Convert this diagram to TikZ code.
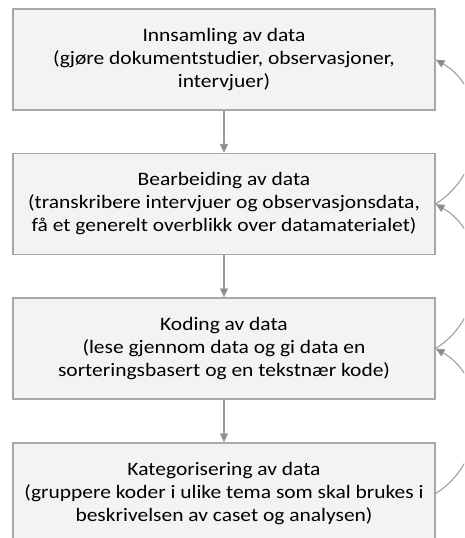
\documentclass[tikz,border=0pt]{standalone}
\usepackage{fontspec}
\setmainfont{Carlito}[FakeStretch=1.13]
\usetikzlibrary{arrows.meta}
\definecolor{boxfill}{HTML}{F3F3F3}
\definecolor{boxline}{HTML}{A8A8A8}
\definecolor{linkgray}{HTML}{999999}
\definecolor{tipgray}{HTML}{888888}
\tikzset{
  stage/.style={draw=boxline, line width=1.2pt, fill=boxfill,
    minimum width=422pt, minimum height=101pt, inner sep=0pt,
    align=center, font=\fontsize{19}{23}\selectfont, text=black},
  flow/.style={draw=linkgray, line width=1.2pt,
    -{Triangle[length=9pt,width=8pt,fill=tipgray]}},
  loopback/.style={draw=linkgray, line width=1pt,
    -{Triangle[length=9pt,width=8pt,fill=tipgray]}}
}
\begin{document}
\begin{tikzpicture}[x=1pt,y=1pt]
\clip (0,0) rectangle (464,-538);
\fill[white] (0,0) rectangle (464,-538);

\node[stage] (s1) at (224,-59.5) {Innsamling av data\\(gjøre dokumentstudier, observasjoner,\\intervjuer)};
\node[stage] (s2) at (224,-204) {Bearbeiding av data\\(transkribere intervjuer og observasjonsdata,\\få et generelt overblikk over datamaterialet)};
\node[stage] (s3) at (224,-348.5) {Koding av data\\(lese gjennom data og gi data en\\sorteringsbasert og en tekstnær kode)};
\node[stage] (s4) at (224,-493.5) {Kategorisering av data\\(gruppere koder i ulike tema som skal brukes i\\beskrivelsen av caset og analysen)};

\draw[flow] (s1) -- (s2);
\draw[flow] (s2) -- (s3);
\draw[flow] (s3) -- (s4);

\draw[loopback] (s2.east) to[out=32,in=-30,looseness=1.1] (s1.east);
\draw[loopback] (s3.east) to[out=32,in=-30,looseness=1.1] (s2.east);
\draw[loopback] (s4.east) to[out=32,in=-30,looseness=1.1] (s3.east);
\end{tikzpicture}
\end{document}
